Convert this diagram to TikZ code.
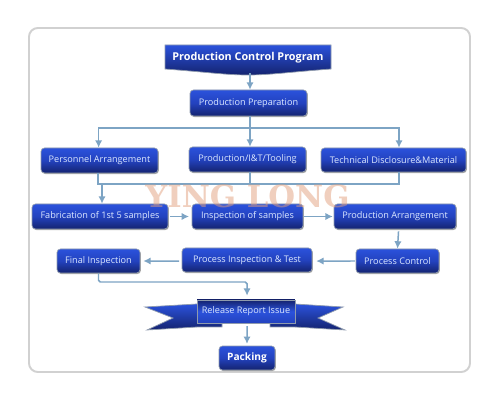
\documentclass[tikz,border=0pt]{standalone}
\usepackage{fontspec}
\setmainfont{Open Sans}
\newfontfamily\markfont{DejaVu Serif}
\usetikzlibrary{arrows.meta, shadows}
\definecolor{boxtop}{HTML}{2B52DC}
\definecolor{boxmid}{HTML}{2342BE}
\definecolor{boxbot}{HTML}{14236F}
\definecolor{linkcol}{HTML}{7DA4C4}
\definecolor{edgecol}{HTML}{8F9BAD}
\definecolor{textcol}{HTML}{DCE8FF}
\definecolor{markcol}{HTML}{E2A07E}
\tikzset{
  flowbox/.style={rounded corners=2pt, top color=boxtop, bottom color=boxbot, middle color=boxmid, draw=edgecol, line width=0.4pt,
    drop shadow={shadow xshift=0.5pt, shadow yshift=-0.6pt, fill=gray, opacity=0.7},
    text=textcol, font=\fontsize{5.2}{6}\selectfont, inner sep=0pt, minimum height=0.5cm},
  boldbox/.style={flowbox, text=white, font=\fontsize{5.8}{7}\selectfont\bfseries},
  line/.style={draw=linkcol, line width=0.85pt},
  link/.style={line, -{Latex[length=4.2pt, width=4.2pt]}},
}
\begin{document}
\begin{tikzpicture}[x=0.02cm, y=-0.02cm]
  \useasboundingbox (0,0) rectangle (500,401);
  \fill[white] (0,0) rectangle (500,401);
  \draw[draw=black!18, line width=1.1pt, rounded corners=5pt, fill=white] (29,28) rectangle (470,372);

  \shade[top color=boxtop, bottom color=boxbot, draw=edgecol, line width=0.4pt]
    (165,45) -- (331,45) -- (331,69) .. controls (290,72) and (270,75) .. (248,75) .. controls (226,75) and (206,72) .. (165,69) -- cycle;
  \node[text=white, font=\fontsize{6.15}{8}\selectfont\bfseries] (title) at (248,57.5) {Production Control Program};
  \coordinate (titlefoot) at (250,73);

  \node[flowbox, minimum width=2.34cm, minimum height=0.52cm] (prep) at (248.5,103) {Production Preparation};
  \node[flowbox, minimum width=2.34cm] (person) at (99.5,160.5) {Personnel Arrangement};
  \node[flowbox, minimum width=2.34cm] (tool) at (247.5,159.5) {Production/I\&T/Tooling};
  \node[flowbox, minimum width=2.9cm, minimum height=0.48cm] (tech) at (393.5,160) {Technical Disclosure\&Material};
  \node[flowbox, minimum width=2.72cm] (fab) at (100,216.5) {Fabrication of 1st 5 samples};
  \node[flowbox, minimum width=2.22cm] (insp) at (247.5,216.5) {Inspection of samples};
  \node[flowbox, minimum width=2.44cm] (arr) at (395,216.5) {Production Arrangement};
  \node[flowbox, minimum width=1.66cm, minimum height=0.48cm] (final) at (98.5,261) {Final Inspection};
  \node[flowbox, minimum width=2.6cm, minimum height=0.48cm] (test) at (247,260) {Process Inspection \& Test};
  \node[flowbox, minimum width=1.66cm, minimum height=0.48cm] (control) at (397.5,261) {Process Control};

  \shade[top color=boxtop, bottom color=boxbot, draw=edgecol, line width=0.4pt]
    (222,323) -- (222,327) -- (197,327) -- (147,330) -- (173,318) -- (145,307) -- (197,304) -- (295,304) -- (343,307) -- (318,318) -- (345,330) -- (295,327) -- (270,327) -- (270,323) -- cycle;
  \node[rectangle, draw=edgecol, line width=0.5pt, top color=boxbot, bottom color=boxmid, middle color=boxtop,
    text=textcol, font=\fontsize{5.2}{6}\selectfont, inner sep=0pt, minimum width=1.96cm, minimum height=0.46cm] (report) at (246,311.5) {Release Report Issue};
  \node[boldbox, minimum width=1.12cm, minimum height=0.48cm] (pack) at (247,358) {Packing};

  \coordinate (split) at (250,128);
  \coordinate (merge) at (102,184);
  \coordinate (mergemid) at (250,184);
  \coordinate (techleg) at (399,128);
  \coordinate (reportin) at (247,282);

  \draw[link] (titlefoot) -- (prep.north -| titlefoot);
  \draw[link] (prep.south -| split) -- (tool.north -| split);
  \draw[link] (split) -| ([xshift=-0.5pt]person.north);
  \draw[link] (split) -| (tech.north -| techleg);

  \draw[line] ([xshift=-0.8pt]person.south) |- (mergemid);
  \draw[line] (tool.south -| mergemid) -- (mergemid);
  \draw[line] (tech.south -| techleg) |- (mergemid);
  \draw[link] (merge) -- (fab.north -| merge);

  \draw[link] ([xshift=1pt]fab.east) -- ([xshift=-1.5pt]insp.west);
  \draw[link] ([xshift=0.5pt]insp.east) -- ([xshift=-0.5pt]arr.west);
  \draw[link] ([xshift=2pt, yshift=-1.2pt]arr.south) -- ([yshift=0pt]control.north);
  \draw[link] ([xshift=-0.5pt]control.west) -- ([xshift=2.2pt, yshift=-0.6pt]test.east);
  \draw[link] ([xshift=-1.5pt, yshift=-0.6pt]test.west) -- ([xshift=1.7pt]final.east);
  \draw[link, rounded corners=1pt] (final.south) |- (reportin) -- ([xshift=0.6pt, yshift=2.2pt]report.north);
  \draw[link] ([xshift=0.6pt, yshift=-1.5pt]report.south) -- ([yshift=1pt]pack.north);

  \node[text=markcol, opacity=0.5, inner sep=0pt, font=\fontsize{17.5}{20}\selectfont\markfont\bfseries] (brand) at (247.5,196) {YING LONG};
\end{tikzpicture}
\end{document}
